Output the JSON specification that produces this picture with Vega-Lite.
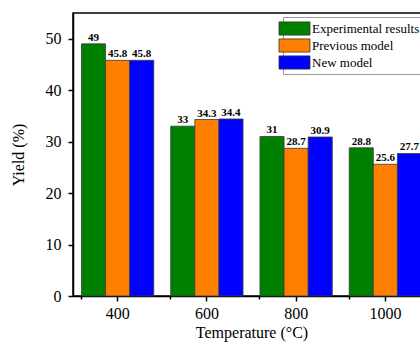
{
  "$schema": "https://vega.github.io/schema/vega-lite/v6.json",
  "width": 357,
  "height": 283,
  "autosize": "none",
  "padding": {"left": 73, "top": 13, "right": 0, "bottom": 47},
  "background": "white",
  "config": {
    "view": {"stroke": "black", "strokeWidth": 1.5},
    "font": "Liberation Serif"
  },
  "data": {
    "values": [
      {"Temperature": "400", "Series": "Experimental results", "Yield": 49},
      {"Temperature": "400", "Series": "Previous model", "Yield": 45.8},
      {"Temperature": "400", "Series": "New model", "Yield": 45.8},
      {"Temperature": "600", "Series": "Experimental results", "Yield": 33},
      {"Temperature": "600", "Series": "Previous model", "Yield": 34.3},
      {"Temperature": "600", "Series": "New model", "Yield": 34.4},
      {"Temperature": "800", "Series": "Experimental results", "Yield": 31},
      {"Temperature": "800", "Series": "Previous model", "Yield": 28.7},
      {"Temperature": "800", "Series": "New model", "Yield": 30.9},
      {"Temperature": "1000", "Series": "Experimental results", "Yield": 28.8},
      {"Temperature": "1000", "Series": "Previous model", "Yield": 25.6},
      {"Temperature": "1000", "Series": "New model", "Yield": 27.7}
    ]
  },
  "resolve": {"axis": {"x": "independent"}},
  "layer": [
    {
      "mark": {"type": "bar", "stroke": "#3a3a3a", "strokeWidth": 0.8},
      "encoding": {
        "x": {
          "field": "Temperature", "type": "ordinal",
          "sort": ["400", "600", "800", "1000"],
          "scale": {"paddingInner": 0.19, "paddingOuter": 0.095},
          "axis": {
            "orient": "bottom",
            "title": "Temperature (°C)",
            "labelAngle": 0,
            "labelFont": "Liberation Serif", "labelFontSize": 16, "labelColor": "black",
            "labelPadding": 4,
            "titleFont": "Liberation Serif", "titleFontSize": 16, "titleFontWeight": "normal", "titleColor": "black",
            "titlePadding": 3,
            "tickSize": 5, "tickWidth": 1.5, "tickColor": "black",
            "domainColor": "black", "domainWidth": 1.5
          }
        },
        "xOffset": {
          "field": "Series", "type": "nominal",
          "sort": ["Experimental results", "Previous model", "New model"],
          "scale": {"paddingInner": 0, "paddingOuter": 0}
        },
        "y": {
          "field": "Yield", "type": "quantitative",
          "scale": {"domain": [0, 55], "nice": false},
          "axis": {
            "title": "Yield (%)",
            "values": [0, 5, 10, 15, 20, 25, 30, 35, 40, 45, 50],
            "labelExpr": "datum.value % 10 === 0 ? datum.label : ''",
            "tickSize": {"condition": {"test": "datum.value % 10 === 0", "value": 5}, "value": 3},
            "grid": false,
            "labelFont": "Liberation Serif", "labelFontSize": 16, "labelColor": "black",
            "labelPadding": 7,
            "titleFont": "Liberation Serif", "titleFontSize": 16, "titleFontWeight": "normal", "titleColor": "black",
            "titlePadding": 19,
            "tickWidth": 1.5, "tickColor": "black",
            "domainColor": "black", "domainWidth": 1.5
          }
        },
        "color": {
          "field": "Series", "type": "nominal",
          "sort": ["Experimental results", "Previous model", "New model"],
          "scale": {
            "domain": ["Experimental results", "Previous model", "New model"],
            "range": ["#008000", "#FF8000", "#0000FF"]
          },
          "legend": {
            "title": null,
            "orient": "none",
            "legendX": 210,
            "legendY": 4,
            "fillColor": "white",
            "strokeColor": "#999999",
            "padding": 3,
            "labelFont": "Liberation Serif",
            "labelFontSize": 13,
            "labelColor": "black",
            "labelOffset": 9,
            "symbolType": "M-2,-0.85H2V0.85H-2Z",
            "symbolSize": 240,
            "symbolStrokeColor": "#333333",
            "symbolStrokeWidth": 0.8,
            "symbolOpacity": 1,
            "rowPadding": -1
          }
        }
      }
    },
    {
      "mark": {"type": "text", "baseline": "bottom", "dy": -1, "fontWeight": "bold", "fontSize": 11, "font": "Liberation Serif", "color": "black"},
      "encoding": {
        "x": {"field": "Temperature", "type": "ordinal", "sort": ["400", "600", "800", "1000"], "axis": null},
        "xOffset": {"field": "Series", "type": "nominal", "sort": ["Experimental results", "Previous model", "New model"]},
        "y": {"field": "Yield", "type": "quantitative"},
        "text": {"field": "Yield", "type": "quantitative", "format": "~g"}
      }
    },
    {
      "mark": {"type": "point", "opacity": 0},
      "encoding": {
        "x": {
          "field": "Temperature", "type": "ordinal", "sort": ["400", "600", "800", "1000"],
          "axis": {
            "orient": "bottom", "bandPosition": 0, "labels": false, "domain": false,
            "title": null, "tickSize": 3, "tickWidth": 1.5, "tickColor": "black", "grid": false
          }
        }
      }
    }
  ]
}
